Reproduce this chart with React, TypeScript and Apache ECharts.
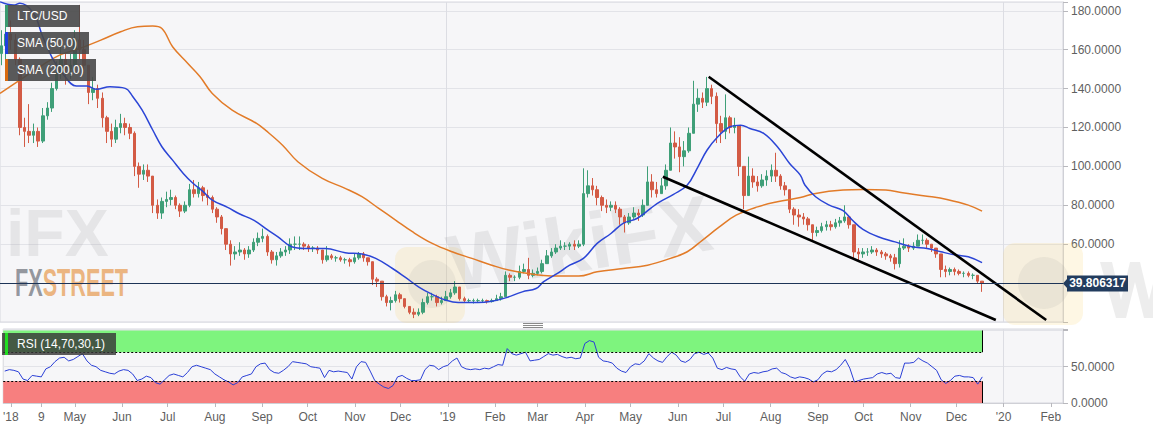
import React, { useEffect, useRef } from "react";
import * as echarts from "echarts";

// ---------- data ----------
const START_DATE = "2018-03-15";
const END_DATE = "2020-02-09";
const CANDLE_STEP_DAYS = 3;
const FIRST_OPEN = 158;
const LAST_PRICE = 39.806317;

const closes = [
  162, 168, 165, 155, 120, 118, 116, 118, 113, 126,
  130, 140, 148, 155, 150, 152, 165, 160, 152, 138,
  140, 135, 125, 118, 114, 120, 122, 120, 117, 100,
  96, 98, 95, 80, 76, 82, 83, 84, 80, 77,
  80, 88, 86, 89, 85, 84, 78, 74, 68, 60,
  55, 56, 57, 55, 57, 61, 63, 64, 56, 52,
  54, 56, 57, 60, 60, 60, 59, 58, 58, 57,
  52, 54, 53, 53, 52, 52, 51, 53, 55, 53,
  51, 42, 41, 33, 30, 31, 34, 32, 28, 25,
  24, 25, 30, 33, 33, 30, 31, 33, 35, 38,
  32, 31, 31, 31, 31, 31, 30.5, 31, 32, 33,
  44, 43, 43, 46, 47, 44, 45, 46, 50, 54,
  56, 58, 59, 59, 60, 59, 60, 86, 90, 88,
  84, 80, 79, 80, 78, 74, 71, 74, 76, 75,
  80, 92, 88, 86, 90, 98, 112, 110, 105, 108,
  117, 132, 135, 133, 140, 136, 122, 118, 125, 120,
  121, 100, 85, 95, 92, 90, 93, 95, 98, 95,
  90, 88, 78, 75, 74, 73, 70, 66, 67, 69,
  70, 69, 71, 72, 74, 70, 56, 55, 56, 56,
  57, 56, 55, 54, 53, 50, 58, 59, 58, 59,
  62, 62, 60, 58, 55, 47, 46, 47, 46, 45,
  45, 44, 44, 41, 39.806317,
];
const highs = [
  170, 172, 175, 168, 156, 125, 132, 122, 120, 130,
  133, 143, 154, 162, 158, 158, 170, 183, 165, 152,
  146, 142, 138, 126, 122, 124, 127, 125, 122, 118,
  102, 101, 101, 95, 83, 84, 87, 88, 85, 81,
  82, 91, 93, 92, 90, 88, 85, 79, 75, 68,
  62, 59, 61, 58, 59, 63, 66, 68, 65, 57,
  56, 58, 59, 63, 64, 64, 61, 60, 59, 59,
  57, 59, 55, 54, 54, 53, 53, 55, 56, 56,
  53, 51, 43, 40, 34, 33, 36, 35, 32, 28,
  27, 27, 32, 35, 35, 34, 33, 36, 37, 41,
  38, 33, 32, 32, 32, 32, 31.5, 32, 34, 35,
  46, 45, 44, 49, 50, 53, 47, 48, 52, 57,
  58, 60, 62, 61, 61, 62, 62, 99, 98, 94,
  90, 85, 83, 82, 82, 79, 75, 76, 79, 78,
  83, 100, 96, 92, 94, 101, 120, 118, 115, 113,
  120, 144, 140, 138, 146, 142, 138, 126, 137, 126,
  125, 121, 98, 105, 99, 95, 96, 98, 101, 107,
  96, 92, 88, 79, 78, 76, 74, 70, 69, 71,
  72, 72, 73, 74, 80, 75, 70, 58, 58, 58,
  59, 58, 57, 56, 55, 55, 62, 63, 60, 61,
  65, 65, 63, 60, 58, 55, 49, 48, 48, 47,
  46, 46, 45, 44, 41,
];
const lows = [
  152, 146, 160, 152, 116, 110, 112, 112, 110, 112,
  124, 128, 139, 145, 142, 145, 150, 155, 148, 132,
  134, 130, 120, 112, 110, 112, 117, 116, 114, 95,
  89, 93, 92, 76, 73, 73, 79, 80, 78, 74,
  76, 79, 84, 84, 82, 80, 76, 71, 65, 57,
  49, 52, 54, 52, 53, 56, 59, 61, 54, 50,
  49, 53, 54, 55, 57, 57, 57, 56, 56, 55,
  50, 51, 52, 51, 51, 50, 48.5, 50, 52, 51,
  49, 39, 38, 31, 28, 26, 30, 30, 27, 24,
  22, 23, 24, 29, 31, 28, 29, 31, 32, 34,
  31, 30, 30, 29.5, 30, 30, 29.5, 30, 31, 31,
  33, 41, 41, 42, 45, 42, 43, 44, 45, 50,
  53, 55, 57, 57, 57, 57, 58, 59, 84, 85,
  80, 77, 76, 77, 76, 70, 66, 70, 73, 72,
  74, 80, 84, 84, 86, 88, 98, 104, 97, 100,
  107, 118, 128, 130, 131, 132, 112, 112, 114, 117,
  117, 95, 78, 86, 89, 87, 89, 90, 92, 92,
  88, 85, 76, 70, 69, 70, 67, 62, 64, 66,
  67, 67, 68, 69, 71, 68, 52, 51, 53, 54,
  55, 54, 53, 52, 51, 47, 48, 57, 56, 57,
  59, 60, 58, 56, 53, 43, 43, 44, 44, 44,
  43, 43, 42, 40, 35.5,
];
const rsiValues = [
  44, 46, 45, 43, 33, 31, 38, 37, 36, 47,
  50, 57, 62, 63, 58, 60, 64, 68, 58, 52,
  50, 45, 43, 41, 40, 44, 46, 45, 40, 31,
  33, 37, 35, 28, 26, 32, 38, 40, 38, 36,
  42, 50, 52, 50, 48, 46, 40, 36, 32, 29,
  25, 28, 36, 38, 40, 50, 54, 55, 46, 42,
  41, 45, 50, 57, 56, 55, 54, 50, 49, 48,
  35, 45, 43, 44, 43, 42, 33, 50, 57, 56,
  44, 31, 26, 22, 20, 24, 36, 38, 34, 31,
  31, 32, 46, 52, 51, 46, 50, 52, 58, 62,
  50, 47, 46, 47, 46, 48, 47, 50, 53, 52,
  75, 68, 66, 68, 70, 58, 59, 60, 64, 68,
  66, 67, 64, 62, 63, 61, 62, 82, 86, 84,
  63, 58, 57, 55, 48, 44, 42, 50, 54, 53,
  58, 68, 62, 58, 56, 64, 70, 66, 58, 56,
  60, 68, 70, 67, 69, 62, 48, 46, 49, 47,
  46, 36, 30, 40, 42, 41, 43, 44, 47, 48,
  42, 40, 36, 34, 36, 35, 33, 29, 32, 40,
  44, 43, 46, 52, 60, 48, 29, 31, 33, 34,
  35, 40, 42, 40, 41, 35, 34, 55, 55, 56,
  62, 58, 55, 50, 45, 32, 27, 31, 37, 38,
  36, 36, 35, 26, 36,
];

const sma50Dates = [
  "2018-03-15", "2018-03-24", "2018-03-28", "2018-04-06", "2018-04-12", "2018-04-19", "2018-04-25",
  "2018-05-04", "2018-05-11", "2018-05-17", "2018-05-26", "2018-06-05", "2018-06-10", "2018-06-16",
  "2018-06-23", "2018-06-29", "2018-07-06", "2018-07-13", "2018-07-19", "2018-07-26", "2018-08-01",
  "2018-08-11", "2018-08-19", "2018-08-28", "2018-09-06", "2018-09-13", "2018-09-22", "2018-10-01",
  "2018-10-14", "2018-10-27", "2018-11-07", "2018-11-16", "2018-11-27", "2018-12-05", "2018-12-14",
  "2018-12-23", "2019-01-01", "2019-01-09", "2019-01-22", "2019-01-31", "2019-02-09", "2019-02-20",
  "2019-03-01", "2019-03-06", "2019-03-15", "2019-03-23", "2019-04-01", "2019-04-10", "2019-04-19",
  "2019-04-27", "2019-05-06", "2019-05-15", "2019-05-21", "2019-05-30", "2019-06-08", "2019-06-15",
  "2019-06-21", "2019-06-28", "2019-07-06", "2019-07-13", "2019-07-19", "2019-07-28", "2019-08-06",
  "2019-08-14", "2019-08-21", "2019-08-24", "2019-08-31", "2019-09-09", "2019-09-18", "2019-09-24",
  "2019-10-01", "2019-10-11", "2019-10-22", "2019-11-02", "2019-11-12", "2019-11-21", "2019-12-01",
  "2019-12-09", "2019-12-18",
];
const sma50Values = [
  184.6, 182.9, 183.8, 178.6, 166.6, 154.6, 147.8,
  141.3, 141.3, 139.6, 140.9, 140.1, 135.8, 129.0,
  118.7, 110.1, 103.2, 96.4, 91.6, 87.0, 82.7,
  78.9, 75.5, 72.4, 67.5, 63.8, 58.7, 57.8,
  57.8, 55.6, 54.9, 52.7, 47.5, 43.2, 38.1,
  34.2, 31.2, 30.0, 30.0, 30.7, 32.4, 35.5,
  37.2, 40.7, 45.0, 49.2, 52.7, 60.4, 65.5,
  70.7, 73.2, 78.4, 81.8, 85.6, 90.4, 99.8,
  108.4, 115.2, 120.4, 121.2, 119.5, 117.0, 110.1,
  101.5, 95.5, 90.4, 84.4, 80.1, 77.2, 72.4,
  67.6, 63.8, 61.2, 58.7, 57.8, 56.1, 54.4,
  53.5, 50.5,
];
const sma200Dates = [
  "2018-03-15", "2018-03-28", "2018-04-10", "2018-04-23", "2018-05-06", "2018-05-20", "2018-06-02",
  "2018-06-13", "2018-06-23", "2018-06-29", "2018-07-06", "2018-07-16", "2018-07-24", "2018-08-01",
  "2018-08-14", "2018-08-30", "2018-09-05", "2018-09-16", "2018-09-26", "2018-10-12", "2018-10-27",
  "2018-11-07", "2018-11-18", "2018-11-29", "2018-12-10", "2018-12-23", "2019-01-05", "2019-01-18",
  "2019-01-31", "2019-02-11", "2019-03-01", "2019-03-11", "2019-03-29", "2019-04-10", "2019-04-27",
  "2019-05-13", "2019-05-28", "2019-06-08", "2019-06-18", "2019-06-29", "2019-07-10", "2019-07-24",
  "2019-08-06", "2019-08-21", "2019-08-31", "2019-09-18", "2019-10-01", "2019-10-16", "2019-10-27",
  "2019-11-12", "2019-11-25", "2019-12-09", "2019-12-18",
];
const sma200Values = [
  137.5, 144.4, 151.2, 157.2, 160.6, 164.9, 169.2,
  171.8, 172.1, 170.9, 161.5, 152.9, 146.1, 137.5,
  128.9, 122.1, 118.5, 110.9, 102.4, 93.8, 88.7,
  84.4, 78.4, 72.4, 66.4, 60.4, 56.1, 52.7,
  49.2, 46.7, 44.3, 43.7, 43.6, 45.8, 47.5,
  49.2, 52.7, 56.1, 62.1, 68.9, 74.9, 79.2,
  81.8, 84.0, 86.1, 87.8, 88.1, 87.8, 86.4,
  84.7, 83.0, 80.1, 77.0,
];

const upperTrendDates = ["2019-06-22", "2020-01-29"];
const upperTrendValues = [146.1, 21.0];
const lowerTrendDates = ["2019-05-23", "2019-12-27"];
const lowerTrendValues = [94.7, 21.0];

const tickDates = [
  "2018-03-20", "2018-04-09", "2018-05-01", "2018-06-01", "2018-07-01", "2018-08-01",
  "2018-09-01", "2018-10-01", "2018-11-01", "2018-12-01", "2019-01-01", "2019-02-01",
  "2019-03-01", "2019-04-01", "2019-05-01", "2019-06-01", "2019-07-01", "2019-08-01",
  "2019-09-01", "2019-10-01", "2019-11-01", "2019-12-01", "2020-01-01", "2020-02-01",
];
const tickLabels = [
  "'18", "9", "May", "Jun", "Jul", "Aug", "Sep", "Oct", "Nov", "Dec", "'19", "Feb",
  "Mar", "Apr", "May", "Jun", "Jul", "Aug", "Sep", "Oct", "Nov", "Dec", "'20", "Feb",
];
const yearLineDates = ["2019-01-01", "2020-01-01"];

const RSI_UPPER = 70;
const RSI_LOWER = 30;

// ---------- helpers ----------
const DAY_MS = 86400000;
const T0 = Date.parse(START_DATE + "T00:00:00Z");
const dayIndex = (d: string) => Math.round((Date.parse(d + "T00:00:00Z") - T0) / DAY_MS);
const N_DAYS = dayIndex(END_DATE) + 1;
const categories = Array.from({ length: N_DAYS }, (_, i) =>
  new Date(T0 + i * DAY_MS).toISOString().slice(0, 10)
);

const FONT = "'Liberation Sans', Arial, Helvetica, sans-serif";
const UP = "#3f9f78";
const DOWN = "#d35b45";
const TAG = "rgb(34,60,94)";
const WM_GRAY = "rgba(150,150,150,0.17)";
const WM_YELLOW = "rgba(248,214,120,0.2)";
const WM_LOGO = "rgba(120,120,120,0.09)";

export default function App() {
  const ref = useRef<HTMLDivElement>(null);

  useEffect(() => {
    if (!ref.current) return;
    const chart = echarts.init(ref.current, null, { renderer: "svg" });

    const candleData = closes.map((c, k) => {
      const o = k === 0 ? FIRST_OPEN : closes[k - 1];
      return [k * CANDLE_STEP_DAYS + 1, o, c, Math.min(lows[k], o, c), Math.max(highs[k], o, c)];
    });
    const lastIdx = (closes.length - 1) * CANDLE_STEP_DAYS + 1;
    const rsiData = rsiValues.map((v, k) => [k * CANDLE_STEP_DAYS + 1, v]);
    const sma50Data = sma50Dates.map((d, i) => [dayIndex(d), sma50Values[i]]);
    const sma200Data = sma200Dates.map((d, i) => [dayIndex(d), sma200Values[i]]);
    const upperData = upperTrendDates.map((d, i) => [dayIndex(d), upperTrendValues[i]]);
    const lowerData = lowerTrendDates.map((d, i) => [dayIndex(d), lowerTrendValues[i]]);

    const tickMap = new Map<number, string>();
    tickDates.forEach((d, i) => tickMap.set(dayIndex(d), tickLabels[i]));
    const yearSet = new Set(yearLineDates.map(dayIndex));

    const splitLine = {
      show: true,
      interval: (i: number) => yearSet.has(i),
      lineStyle: { color: "#dcdde3", width: 1 },
    };

    const boxes = [
      { text: "LTC/USD", stripe: "#3a9a70", y: 5, w: 75 },
      { text: "SMA (50,0)", stripe: "#1f3fe0", y: 32, w: 84 },
      { text: "SMA (200,0)", stripe: "#d86a10", y: 59, w: 91 },
    ];
    const boxGraphics: any[] = [];
    boxes.forEach((b) => {
      boxGraphics.push(
        { type: "rect", z: 300, silent: true, shape: { x: 5, y: b.y, width: b.w, height: 22 }, style: { fill: "rgba(72,72,72,0.9)" } },
        { type: "rect", z: 301, silent: true, shape: { x: 5, y: b.y, width: 3, height: 22 }, style: { fill: b.stripe } },
        {
          type: "text", z: 302, silent: true, x: 17, y: b.y + 11,
          style: { text: b.text, fill: "#ffffff", fontSize: 12, fontFamily: FONT, verticalAlign: "middle", align: "left" },
        }
      );
    });

    // "W" watermark drawn as a shape
    const wPts = [
      [1100, 262], [1112, 262], [1121, 300], [1130, 262], [1140, 262], [1149, 300], [1153, 284],
      [1153, 318], [1144, 318], [1135, 282], [1126, 318], [1116, 318],
    ];

    const option: any = {
      animation: false,
      backgroundColor: "#ffffff",
      textStyle: { fontFamily: FONT },
      grid: [
        { left: 0, top: 2, width: 1063, height: 320, show: true, backgroundColor: "#f6f6f8", borderColor: "#d6d7de", borderWidth: 1 },
        { left: 0, top: 329, width: 1063, height: 74, show: true, backgroundColor: "#f6f6f8", borderColor: "#d6d7de", borderWidth: 1 },
      ],
      xAxis: [
        {
          type: "category",
          gridIndex: 0,
          data: categories,
          boundaryGap: false,
          axisLine: { show: false },
          axisTick: { show: false },
          axisLabel: { show: false },
          splitLine,
        },
        {
          type: "category",
          gridIndex: 1,
          data: categories,
          boundaryGap: false,
          axisLine: { show: true, lineStyle: { color: "#cfd0d6" } },
          axisTick: { show: true, interval: (i: number) => tickMap.has(i), length: 4, lineStyle: { color: "#b8b8bd" } },
          axisLabel: {
            interval: (i: number) => tickMap.has(i),
            formatter: (_v: string, i: number) => tickMap.get(i) ?? "",
            color: "#5f5f5f",
            fontSize: 12,
            margin: 8,
            fontFamily: FONT,
          },
          splitLine,
        },
      ],
      yAxis: [
        {
          type: "value",
          gridIndex: 0,
          position: "right",
          min: 20,
          max: 184.5,
          interval: 20,
          axisLine: { show: true, lineStyle: { color: "#cfd0d6" } },
          axisTick: { show: true, length: 5, lineStyle: { color: "#b8b8bd" } },
          axisLabel: {
            formatter: (v: number) => (v >= 60 && v <= 180 ? v.toFixed(4) : ""),
            color: "#5f5f5f",
            fontSize: 12,
            margin: 8,
            fontFamily: FONT,
          },
          splitLine: { show: true, lineStyle: { color: "#e2e3e8" } },
        },
        {
          type: "value",
          gridIndex: 1,
          position: "right",
          min: 0,
          max: 102,
          interval: 50,
          axisLine: { show: true, lineStyle: { color: "#cfd0d6" } },
          axisTick: { show: true, length: 5, lineStyle: { color: "#b8b8bd" } },
          axisLabel: {
            formatter: (v: number) => (v === 0 || v === 50 ? v.toFixed(4) : ""),
            color: "#5f5f5f",
            fontSize: 12,
            margin: 8,
            fontFamily: FONT,
          },
          splitLine: { show: true, lineStyle: { color: "#e2e3e8" } },
        },
      ],
      series: [
        {
          type: "line",
          name: "SMA (200,0)",
          xAxisIndex: 0,
          yAxisIndex: 0,
          data: sma200Data,
          smooth: 0.4,
          symbol: "none",
          silent: true,
          lineStyle: { color: "#e27b28", width: 1.5 },
        },
        {
          type: "candlestick",
          name: "LTC/USD",
          xAxisIndex: 0,
          yAxisIndex: 0,
          data: candleData,
          encode: { x: 0, y: [1, 2, 3, 4] },
          barWidth: 3,
          silent: true,
          itemStyle: { color: UP, color0: DOWN, borderColor: UP, borderColor0: DOWN, borderWidth: 1 },
          markLine: {
            silent: true,
            symbol: ["none", "none"],
            animation: false,
            lineStyle: { color: "#1d3457", width: 1, type: "solid" },
            label: { show: false },
            data: [{ yAxis: LAST_PRICE }],
          },
        },
        {
          type: "line",
          name: "SMA (50,0)",
          xAxisIndex: 0,
          yAxisIndex: 0,
          data: sma50Data,
          smooth: 0.4,
          symbol: "none",
          silent: true,
          lineStyle: { color: "#2b45d6", width: 1.5 },
        },
        {
          type: "line",
          name: "upper",
          xAxisIndex: 0,
          yAxisIndex: 0,
          data: upperData,
          symbol: "none",
          silent: true,
          lineStyle: { color: "#000000", width: 2.6 },
        },
        {
          type: "line",
          name: "lower",
          xAxisIndex: 0,
          yAxisIndex: 0,
          data: lowerData,
          symbol: "none",
          silent: true,
          lineStyle: { color: "#000000", width: 2.6 },
        },
        {
          // last-price tag at the right of the price axis
          type: "custom",
          name: "last price",
          xAxisIndex: 0,
          yAxisIndex: 0,
          data: [[lastIdx, LAST_PRICE]],
          clip: false,
          silent: true,
          z: 20,
          renderItem: (params: any, api: any) => {
            const p = api.coord([api.value(0), api.value(1)]);
            const cs = params.coordSys;
            const x0 = cs.x + cs.width;
            const y = p[1];
            return {
              type: "group",
              children: [
                { type: "polygon", shape: { points: [[x0, y], [x0 + 4, y - 4.5], [x0 + 4, y + 4.5]] }, style: { fill: TAG } },
                { type: "rect", shape: { x: x0 + 4, y: y - 8, width: 61, height: 16 }, style: { fill: TAG } },
                {
                  type: "text",
                  x: x0 + 34.5,
                  y: y,
                  style: {
                    text: LAST_PRICE.toFixed(6),
                    fill: "#ffffff",
                    fontSize: 12,
                    fontWeight: "bold",
                    fontFamily: FONT,
                    align: "center",
                    verticalAlign: "middle",
                  },
                },
              ],
            };
          },
        },
        {
          type: "line",
          name: "bands",
          xAxisIndex: 1,
          yAxisIndex: 1,
          data: [[0, 50], [lastIdx, 50]],
          symbol: "none",
          silent: true,
          lineStyle: { opacity: 0 },
          markArea: {
            silent: true,
            data: [
              [{ coord: [0, RSI_UPPER], itemStyle: { color: "#7ef47e" } }, { coord: [lastIdx, 100] }],
              [{ coord: [0, 0], itemStyle: { color: "#f77f7f" } }, { coord: [lastIdx, RSI_LOWER] }],
            ],
          },
          markLine: {
            silent: true,
            symbol: ["none", "none"],
            label: { show: false },
            lineStyle: { color: "#000000", width: 1, type: "solid" },
            data: [
              [{ coord: [0, RSI_UPPER], lineStyle: { type: [2, 2] } }, { coord: [lastIdx, RSI_UPPER] }],
              [{ coord: [0, RSI_LOWER], lineStyle: { type: [2, 2] } }, { coord: [lastIdx, RSI_LOWER] }],
              [{ coord: [lastIdx, RSI_UPPER] }, { coord: [lastIdx, 100] }],
              [{ coord: [lastIdx, 0] }, { coord: [lastIdx, RSI_LOWER] }],
            ],
          },
        },
        {
          type: "line",
          name: "RSI (14,70,30,1)",
          xAxisIndex: 1,
          yAxisIndex: 1,
          data: rsiData,
          symbol: "none",
          silent: true,
          lineStyle: { color: "#2a3fd6", width: 1 },
        },
      ],
      graphic: [
        // watermarks (under the series)
        {
          type: "text", x: 6, y: 266, z: 1, silent: true,
          style: { text: "iFX", fontSize: 66, fontWeight: "bold", fontFamily: FONT, fill: WM_GRAY, verticalAlign: "bottom" },
        },
        {
          type: "rect", z: 1, silent: true,
          shape: { x: 395, y: 247, width: 70, height: 76, r: 12 },
          style: { fill: WM_YELLOW },
        },
        { type: "circle", z: 1, silent: true, shape: { cx: 432, cy: 284, r: 24 }, style: { fill: WM_LOGO } },
        {
          type: "text", x: 455, y: 304, rotation: 0.16, z: 1, silent: true,
          style: { text: "WikiFX", fontSize: 80, fontWeight: "bold", fontFamily: FONT, fill: WM_GRAY, verticalAlign: "bottom" },
        },
        {
          type: "rect", z: 1, silent: true,
          shape: { x: 1003, y: 243, width: 80, height: 82, r: 12 },
          style: { fill: WM_YELLOW },
        },
        { type: "circle", z: 1, silent: true, shape: { cx: 1044, cy: 283, r: 26 }, style: { fill: WM_LOGO } },
        { type: "polygon", z: 1, silent: true, shape: { points: wPts }, style: { fill: WM_GRAY } },
        {
          type: "text", x: 15, y: 302, scaleX: 0.57, z: 1, silent: true,
          style: {
            text: "{a|FX}{b|STREET}",
            verticalAlign: "bottom",
            rich: {
              a: { fontSize: 38, fontWeight: "bold", fontFamily: FONT, fill: "rgba(130,134,142,0.85)" },
              b: { fontSize: 38, fontWeight: "bold", fontFamily: FONT, fill: "rgba(232,164,96,0.8)" },
            },
          },
        },
        // legend boxes
        ...boxGraphics,
        { type: "rect", z: 300, silent: true, shape: { x: 2, y: 333, width: 114, height: 22 }, style: { fill: "rgba(55,55,55,0.82)" } },
        { type: "rect", z: 301, silent: true, shape: { x: 5, y: 333, width: 3, height: 22 }, style: { fill: "#22dd22" } },
        {
          type: "text", z: 302, silent: true, x: 17, y: 344,
          style: { text: "RSI (14,70,30,1)", fill: "#ffffff", fontSize: 12, fontFamily: FONT, verticalAlign: "middle", align: "left" },
        },
        // panel resize handle
        { type: "line", z: 300, silent: true, shape: { x1: 523, y1: 323.5, x2: 543, y2: 323.5 }, style: { stroke: "#8a8a8a", lineWidth: 1 } },
        { type: "line", z: 300, silent: true, shape: { x1: 523, y1: 325.5, x2: 543, y2: 325.5 }, style: { stroke: "#8a8a8a", lineWidth: 1 } },
        { type: "line", z: 300, silent: true, shape: { x1: 523, y1: 327.5, x2: 543, y2: 327.5 }, style: { stroke: "#8a8a8a", lineWidth: 1 } },
      ],
    };

    chart.setOption(option);
    return () => chart.dispose();
  }, []);

  return (
    <div
      ref={ref}
      style={{ position: "absolute", left: 0, top: 0, width: 1153, height: 430, background: "#ffffff" }}
    />
  );
}
